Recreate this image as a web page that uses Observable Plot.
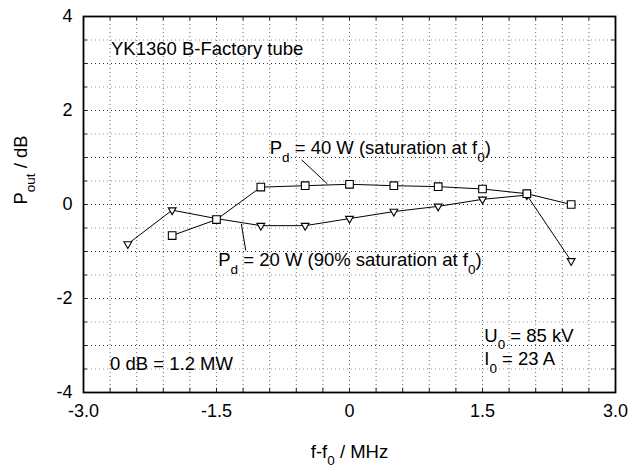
<!DOCTYPE html>
<html>
<head>
<meta charset="utf-8">
<script src="https://cdn.jsdelivr.net/npm/d3@7"></script>
<script src="https://cdn.jsdelivr.net/npm/@observablehq/plot@0.6"></script>
<style>
  html, body { margin: 0; padding: 0; background: white; }
  #chart { width: 637px; height: 468px; }
</style>
</head>
<body>
<div id="chart"></div>
<script>
// ---- data ----
const freq40 = [-2, -1.5, -1, -0.5, 0, 0.5, 1, 1.5, 2, 2.5];
const pout40 = [-0.66, -0.32, 0.37, 0.40, 0.43, 0.40, 0.38, 0.33, 0.23, 0.00];
const freq20 = [-2.5, -2, -1.5, -1, -0.5, 0, 0.5, 1, 1.5, 2, 2.5];
const pout20 = [-0.84, -0.12, -0.30, -0.45, -0.45, -0.30, -0.15, -0.04, 0.11, 0.20, -1.20];

const xTicks = [-3, -1.5, 0, 1.5, 3];
const yTicks = [-4, -2, 0, 2, 4];
const xGrid = [-3, -2.7, -2.4, -2.1, -1.8, -1.5, -1.2, -0.9, -0.6, -0.3, 0, 0.3, 0.6, 0.9, 1.2, 1.5, 1.8, 2.1, 2.4, 2.7, 3];
const yGridMajor = [-3, -2, -1, 0, 1, 2, 3];
const yGridMinor = [-3.5, -2.5, -1.5, -0.5, 0.5, 1.5, 2.5, 3.5];
const yGridAll = [-3.5, -3, -2.5, -2, -1.5, -1, -0.5, 0, 0.5, 1, 1.5, 2, 2.5, 3, 3.5];

const xLabel = "f-f_{0} / MHz";
const yLabel = "P_{out} / dB";

const annoText = ["YK1360 B-Factory tube", "P_{d} = 40 W (saturation at f_{0})", "P_{d} = 20 W (90% saturation at f_{0})", "0 dB = 1.2 MW", "U_{0} = 85 kV", "I_{0} = 23 A"];
const annoX = [-2.69, -0.90, -1.48, -2.70, 1.52, 1.52];
const annoY = [3.30, 1.20, -1.19, -3.40, -2.79, -3.29];

// leader lines
const leadX1 = [-0.54, -1.22];
const leadY1 = [0.95, -0.41];
const leadX2 = [-0.25, -1.17];
const leadY2 = [0.44, -0.98];

// ---- build tables ----
const s40 = freq40.map((f, i) => ({f, p: pout40[i]}));
const s20 = freq20.map((f, i) => ({f, p: pout20[i]}));
const annos = annoText.map((t, i) => ({t, x: annoX[i], y: annoY[i]}));
const leads = leadX1.map((x1, i) => ({x1, y1: leadY1[i], x2: leadX2[i], y2: leadY2[i]}));

const xDom = [-3, 3], yDom = [-4, 4];
const fmtX = d => d === 0 ? "0" : d.toFixed(1);
const fmtY = d => String(d);
const FS = 18.5;

const chart = Plot.plot({
  width: 637,
  height: 468,
  marginLeft: 83,
  marginRight: 22,
  marginTop: 16,
  marginBottom: 76,
  style: {fontFamily: "'Liberation Sans', Arial, sans-serif", fontSize: "18px", background: "white", color: "black"},
  x: {domain: xDom, label: null},
  y: {domain: yDom, label: null},
  marks: [
    Plot.gridX(xGrid, {stroke: "#666", strokeOpacity: 1, strokeDasharray: "1,3", strokeWidth: 1}),
    Plot.gridY(yGridMinor, {stroke: "#999", strokeOpacity: 1, strokeDasharray: "1,3", strokeWidth: 1}),
    Plot.gridY(yGridMajor, {stroke: "#333", strokeOpacity: 1, strokeDasharray: "1,3", strokeWidth: 1}),
    // inward ticks
    Plot.ruleX(xGrid, {y1: yDom[0], y2: yDom[0] + 0.09, stroke: "#222"}),
    Plot.ruleX(xGrid, {y1: yDom[1], y2: yDom[1] - 0.09, stroke: "#222"}),
    Plot.ruleY(yGridAll, {x1: xDom[0], x2: xDom[0] + 0.045, stroke: "#222"}),
    Plot.ruleY(yGridAll, {x1: xDom[1], x2: xDom[1] - 0.045, stroke: "#222"}),
    Plot.frame({stroke: "black", strokeWidth: 1.8}),
    Plot.axisX(xTicks, {tickSize: 0, tickPadding: 12, tickFormat: fmtX, fontSize: 18, label: null}),
    Plot.axisY(yTicks, {tickSize: 0, tickPadding: 11, tickFormat: fmtY, fontSize: 18, label: null}),
    // series
    Plot.line(s20, {x: "f", y: "p", stroke: "black", strokeWidth: 1}),
    Plot.line(s40, {x: "f", y: "p", stroke: "black", strokeWidth: 1}),
    Plot.dot(s20, {x: "f", y: "p", symbol: "triangle", rotate: 180, r: 2.9, fill: "white", stroke: "black", strokeWidth: 1.1}),
    Plot.dot(s40, {x: "f", y: "p", symbol: "square", r: 4.3, fill: "white", stroke: "black", strokeWidth: 1.1}),
    // leader lines
    Plot.link(leads, {x1: "x1", y1: "y1", x2: "x2", y2: "y2", stroke: "black", strokeWidth: 1}),
    // annotations
    Plot.text(annos, {x: "x", y: "y", text: "t", textAnchor: "start", lineAnchor: "middle", fontSize: FS, fill: "black"}),
    // axis titles
    Plot.text([xLabel], {text: d => d, frameAnchor: "bottom", dy: 65, lineAnchor: "bottom", fontSize: FS, fill: "black"}),
    Plot.text([yLabel], {text: d => d, frameAnchor: "left", dx: -62, rotate: -90, lineAnchor: "middle", fontSize: FS, fill: "black"})
  ]
});

// turn _{...} into real subscript tspans
const NS = "http://www.w3.org/2000/svg";
chart.querySelectorAll("text").forEach(t => {
  const s = t.textContent;
  if (!s.includes("_{")) return;
  while (t.firstChild) t.removeChild(t.firstChild);
  const parts = s.split(/(_\{[^}]*\})/);
  let shifted = false;
  for (const p of parts) {
    if (!p) continue;
    const ts = document.createElementNS(NS, "tspan");
    if (p.startsWith("_{")) {
      ts.textContent = p.slice(2, -1);
      ts.setAttribute("font-size", "13.5");
      ts.setAttribute("dy", "7.5");
      shifted = true;
    } else {
      ts.textContent = p;
      if (shifted) { ts.setAttribute("dy", "-7.5"); shifted = false; }
    }
    t.appendChild(ts);
  }
});

document.getElementById("chart").appendChild(chart);
</script>
</body>
</html>
